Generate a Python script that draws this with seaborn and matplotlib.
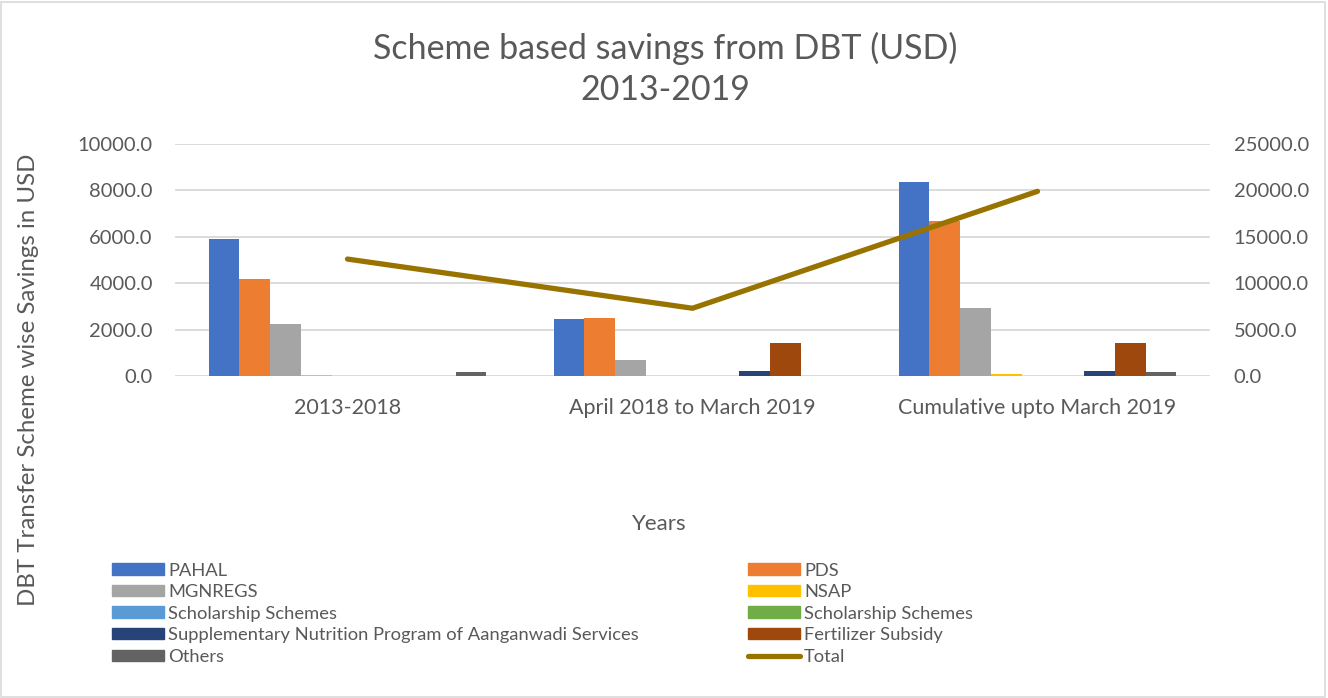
import matplotlib
matplotlib.use("Agg")
import matplotlib.pyplot as plt
import matplotlib.patches as mpatches
from matplotlib.lines import Line2D
import seaborn as sns
import pandas as pd
import numpy as np

categories = ["2013-2018", "April 2018 to March 2019", "Cumulative upto March 2019"]
series_names = ["PAHAL", "PDS", "MGNREGS", "NSAP", "Scholarship Schemes",
                "Scholarship Schemes", "Supplementary Nutrition Program of Aanganwadi Services",
                "Fertilizer Subsidy", "Others"]
pahal = [5905, 2443, 8348]
pds = [4170, 2513, 6683]
mgnregs = [2241, 690, 2931]
nsap = [60, 0, 86]
scholarship1 = [0, 0, 0]
scholarship2 = [0, 0, 0]
snp = [0, 215, 200]
fertilizer = [0, 1409, 1409]
others = [160, 0, 160]
total = [12600, 7300, 19900]

colors = ["#4472C4", "#ED7D31", "#A5A5A5", "#FFC000", "#5B9BD5",
          "#70AD47", "#264478", "#9E480E", "#636363"]
total_color = "#997300"

all_vals = [pahal, pds, mgnregs, nsap, scholarship1, scholarship2, snp, fertilizer, others]
keys = [f"s{i}" for i in range(len(series_names))]
rows = []
for k, vals in zip(keys, all_vals):
    for c, v in zip(categories, vals):
        rows.append({"category": c, "series": k, "value": v})
df = pd.DataFrame(rows)

sns.set_theme(style="white")
plt.rcParams["font.family"] = ["Lato", "DejaVu Sans"]
text_color = "#595959"

fig = plt.figure(figsize=(13.28, 6.98), dpi=100)
ax = fig.add_axes([175/1328, 1-376/698, (1210-175)/1328, (376-144)/698])

sns.barplot(data=df, x="category", y="value", hue="series", hue_order=keys,
            palette=dict(zip(keys, colors)), width=0.805, ax=ax, legend=False,
            saturation=1, edgecolor="none")

ax.set_ylim(0, 10000)
ax.set_yticks(np.arange(0, 10001, 2000))
ax.set_yticklabels([f"{v:.1f}" for v in np.arange(0, 10001, 2000)])
ax.grid(axis="y", color="#d9d9d9", linewidth=1.3)
ax.set_axisbelow(True)
for s in ax.spines.values():
    s.set_visible(False)
ax.tick_params(axis="y", length=0, labelsize=14.5, labelcolor=text_color, pad=16)
ax.tick_params(axis="x", length=0, labelsize=15.5, labelcolor=text_color, pad=16)
ax.set_xlabel("")
ax.set_ylabel("")
ax.set_xlim(-0.5, 2.5)

ax2 = ax.twinx()
sns.lineplot(x=[0, 1, 2], y=total, ax=ax2, color=total_color, linewidth=3.8,
             solid_capstyle="round")
ax2.set_ylim(0, 25000)
ax2.set_yticks(np.arange(0, 25001, 5000))
ax2.set_yticklabels([f"{v:.1f}" for v in np.arange(0, 25001, 5000)])
ax2.tick_params(axis="y", length=0, labelsize=14.5, labelcolor=text_color, pad=17)
for s in ax2.spines.values():
    s.set_visible(False)
ax2.grid(False)
ax2.set_xlim(-0.5, 2.5)

fig.text(665/1328, 1-48/698, "Scheme based savings from DBT (USD)", ha="center", va="center",
         fontsize=24.5, color=text_color)
fig.text(665/1328, 1-90/698, "2013-2019", ha="center", va="center",
         fontsize=24.5, color=text_color)
fig.text(659/1328, 1-524/698, "Years", ha="center", va="center", fontsize=16, color=text_color)
fig.text(29/1328, 1-380/698, "DBT Transfer Scheme wise Savings in USD", ha="center", va="center",
         rotation=90, fontsize=17.3, color=text_color)

h = [mpatches.Patch(color=c, label=n) for c, n in zip(colors, series_names)]
h_total = Line2D([0], [0], color=total_color, linewidth=3.8, solid_capstyle="round", label="Total")
left_items = [h[0], h[2], h[4], h[6], h[8]]
right_items = [h[1], h[3], h[5], h[7], h_total]
leg_kw = dict(frameon=False, fontsize=13.25, handlelength=2.85, handleheight=0.55,
              handletextpad=0.2, labelspacing=0.3, borderaxespad=0, borderpad=0,
              labelcolor=text_color)
l1 = fig.legend(handles=left_items, loc="upper left", bbox_to_anchor=(112/1328, 1-562.5/698), **leg_kw)
l2 = fig.legend(handles=right_items, loc="upper left", bbox_to_anchor=(748/1328, 1-562.5/698), **leg_kw)

fig.patches.append(mpatches.Rectangle((0.001, 0.002), 0.997, 0.995, transform=fig.transFigure,
                                      fill=False, edgecolor="#d9d9d9", linewidth=1.2))

fig.savefig("out.png", dpi=100)
